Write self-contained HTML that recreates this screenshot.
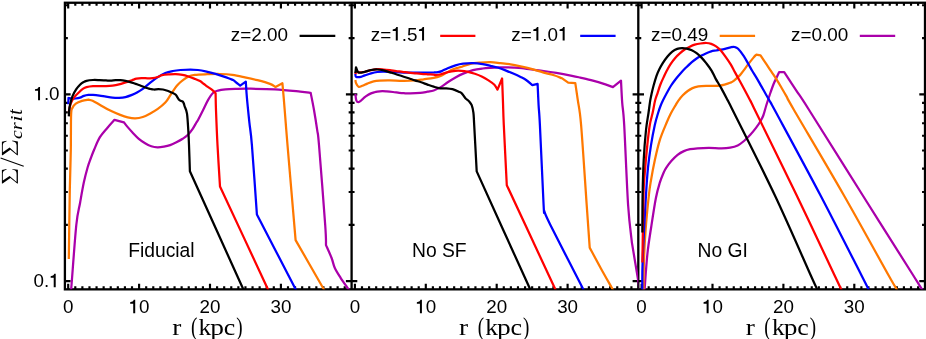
<!DOCTYPE html>
<html><head><meta charset="utf-8"><title>Sigma/Sigma_crit vs r</title>
<style>html,body{margin:0;padding:0;background:#fff;}body{width:926px;height:339px;overflow:hidden;}svg{display:block;will-change:transform;}text{font-family:"Liberation Sans",sans-serif;fill:#000;}.s{font-family:"Liberation Serif",serif;}</style></head><body>
<svg width="926" height="339" viewBox="0 0 926 339">
<rect x="0" y="0" width="926" height="339" fill="#fff"/>
<defs>
<clipPath id="c0"><rect x="64.9" y="2.75" width="286.7" height="286.6"/></clipPath>
<clipPath id="c1"><rect x="351.6" y="2.75" width="286.7" height="286.6"/></clipPath>
<clipPath id="c2"><rect x="638.3" y="2.75" width="286.7" height="286.6"/></clipPath>
</defs>
<path d="M68.2 289.35v-5.7M68.2 2.75v5.7M75.29 289.35v-3M75.29 2.75v3M82.38 289.35v-3M82.38 2.75v3M89.47 289.35v-3M89.47 2.75v3M96.56 289.35v-3M96.56 2.75v3M103.65 289.35v-3M103.65 2.75v3M110.74 289.35v-3M110.74 2.75v3M117.83 289.35v-3M117.83 2.75v3M124.92 289.35v-3M124.92 2.75v3M132.01 289.35v-3M132.01 2.75v3M139.1 289.35v-5.7M139.1 2.75v5.7M146.19 289.35v-3M146.19 2.75v3M153.28 289.35v-3M153.28 2.75v3M160.37 289.35v-3M160.37 2.75v3M167.46 289.35v-3M167.46 2.75v3M174.55 289.35v-3M174.55 2.75v3M181.64 289.35v-3M181.64 2.75v3M188.73 289.35v-3M188.73 2.75v3M195.82 289.35v-3M195.82 2.75v3M202.91 289.35v-3M202.91 2.75v3M210 289.35v-5.7M210 2.75v5.7M217.09 289.35v-3M217.09 2.75v3M224.18 289.35v-3M224.18 2.75v3M231.27 289.35v-3M231.27 2.75v3M238.36 289.35v-3M238.36 2.75v3M245.45 289.35v-3M245.45 2.75v3M252.54 289.35v-3M252.54 2.75v3M259.63 289.35v-3M259.63 2.75v3M266.72 289.35v-3M266.72 2.75v3M273.81 289.35v-3M273.81 2.75v3M280.9 289.35v-5.7M280.9 2.75v5.7M287.99 289.35v-3M287.99 2.75v3M295.08 289.35v-3M295.08 2.75v3M302.17 289.35v-3M302.17 2.75v3M309.26 289.35v-3M309.26 2.75v3M316.35 289.35v-3M316.35 2.75v3M323.44 289.35v-3M323.44 2.75v3M330.53 289.35v-3M330.53 2.75v3M337.62 289.35v-3M337.62 2.75v3M344.71 289.35v-3M344.71 2.75v3M354.9 289.35v-5.7M354.9 2.75v5.7M361.99 289.35v-3M361.99 2.75v3M369.08 289.35v-3M369.08 2.75v3M376.17 289.35v-3M376.17 2.75v3M383.26 289.35v-3M383.26 2.75v3M390.35 289.35v-3M390.35 2.75v3M397.44 289.35v-3M397.44 2.75v3M404.53 289.35v-3M404.53 2.75v3M411.62 289.35v-3M411.62 2.75v3M418.71 289.35v-3M418.71 2.75v3M425.8 289.35v-5.7M425.8 2.75v5.7M432.89 289.35v-3M432.89 2.75v3M439.98 289.35v-3M439.98 2.75v3M447.07 289.35v-3M447.07 2.75v3M454.16 289.35v-3M454.16 2.75v3M461.25 289.35v-3M461.25 2.75v3M468.34 289.35v-3M468.34 2.75v3M475.43 289.35v-3M475.43 2.75v3M482.52 289.35v-3M482.52 2.75v3M489.61 289.35v-3M489.61 2.75v3M496.7 289.35v-5.7M496.7 2.75v5.7M503.79 289.35v-3M503.79 2.75v3M510.88 289.35v-3M510.88 2.75v3M517.97 289.35v-3M517.97 2.75v3M525.06 289.35v-3M525.06 2.75v3M532.15 289.35v-3M532.15 2.75v3M539.24 289.35v-3M539.24 2.75v3M546.33 289.35v-3M546.33 2.75v3M553.42 289.35v-3M553.42 2.75v3M560.51 289.35v-3M560.51 2.75v3M567.6 289.35v-5.7M567.6 2.75v5.7M574.69 289.35v-3M574.69 2.75v3M581.78 289.35v-3M581.78 2.75v3M588.87 289.35v-3M588.87 2.75v3M595.96 289.35v-3M595.96 2.75v3M603.05 289.35v-3M603.05 2.75v3M610.14 289.35v-3M610.14 2.75v3M617.23 289.35v-3M617.23 2.75v3M624.32 289.35v-3M624.32 2.75v3M631.41 289.35v-3M631.41 2.75v3M641.6 289.35v-5.7M641.6 2.75v5.7M648.69 289.35v-3M648.69 2.75v3M655.78 289.35v-3M655.78 2.75v3M662.87 289.35v-3M662.87 2.75v3M669.96 289.35v-3M669.96 2.75v3M677.05 289.35v-3M677.05 2.75v3M684.14 289.35v-3M684.14 2.75v3M691.23 289.35v-3M691.23 2.75v3M698.32 289.35v-3M698.32 2.75v3M705.41 289.35v-3M705.41 2.75v3M712.5 289.35v-5.7M712.5 2.75v5.7M719.59 289.35v-3M719.59 2.75v3M726.68 289.35v-3M726.68 2.75v3M733.77 289.35v-3M733.77 2.75v3M740.86 289.35v-3M740.86 2.75v3M747.95 289.35v-3M747.95 2.75v3M755.04 289.35v-3M755.04 2.75v3M762.13 289.35v-3M762.13 2.75v3M769.22 289.35v-3M769.22 2.75v3M776.31 289.35v-3M776.31 2.75v3M783.4 289.35v-5.7M783.4 2.75v5.7M790.49 289.35v-3M790.49 2.75v3M797.58 289.35v-3M797.58 2.75v3M804.67 289.35v-3M804.67 2.75v3M811.76 289.35v-3M811.76 2.75v3M818.85 289.35v-3M818.85 2.75v3M825.94 289.35v-3M825.94 2.75v3M833.03 289.35v-3M833.03 2.75v3M840.12 289.35v-3M840.12 2.75v3M847.21 289.35v-3M847.21 2.75v3M854.3 289.35v-5.7M854.3 2.75v5.7M861.39 289.35v-3M861.39 2.75v3M868.48 289.35v-3M868.48 2.75v3M875.57 289.35v-3M875.57 2.75v3M882.66 289.35v-3M882.66 2.75v3M889.75 289.35v-3M889.75 2.75v3M896.84 289.35v-3M896.84 2.75v3M903.93 289.35v-3M903.93 2.75v3M911.02 289.35v-3M911.02 2.75v3M918.11 289.35v-3M918.11 2.75v3M64.9 281.05h5.7M64.9 224.83h2.95M64.9 191.95h2.95M64.9 168.62h2.95M64.9 150.52h2.95M64.9 135.73h2.95M64.9 123.23h2.95M64.9 112.4h2.95M64.9 102.85h2.95M64.9 94.3h5.7M64.9 38.08h2.95M64.9 5.2h2.95M351.6 281.05h5.7M351.6 281.05h-5.7M351.6 224.83h2.95M351.6 224.83h-2.95M351.6 191.95h2.95M351.6 191.95h-2.95M351.6 168.62h2.95M351.6 168.62h-2.95M351.6 150.52h2.95M351.6 150.52h-2.95M351.6 135.73h2.95M351.6 135.73h-2.95M351.6 123.23h2.95M351.6 123.23h-2.95M351.6 112.4h2.95M351.6 112.4h-2.95M351.6 102.85h2.95M351.6 102.85h-2.95M351.6 94.3h5.7M351.6 94.3h-5.7M351.6 38.08h2.95M351.6 38.08h-2.95M351.6 5.2h2.95M351.6 5.2h-2.95M638.3 281.05h5.7M638.3 281.05h-5.7M638.3 224.83h2.95M638.3 224.83h-2.95M638.3 191.95h2.95M638.3 191.95h-2.95M638.3 168.62h2.95M638.3 168.62h-2.95M638.3 150.52h2.95M638.3 150.52h-2.95M638.3 135.73h2.95M638.3 135.73h-2.95M638.3 123.23h2.95M638.3 123.23h-2.95M638.3 112.4h2.95M638.3 112.4h-2.95M638.3 102.85h2.95M638.3 102.85h-2.95M638.3 94.3h5.7M638.3 94.3h-5.7M638.3 38.08h2.95M638.3 38.08h-2.95M638.3 5.2h2.95M638.3 5.2h-2.95M925 281.05h-5.7M925 224.83h-2.95M925 191.95h-2.95M925 168.62h-2.95M925 150.52h-2.95M925 135.73h-2.95M925 123.23h-2.95M925 112.4h-2.95M925 102.85h-2.95M925 94.3h-5.7M925 38.08h-2.95M925 5.2h-2.95" stroke="#000" stroke-width="2.15" fill="none"/>
<rect x="64.9" y="2.75" width="860.1" height="286.6" fill="none" stroke="#000" stroke-width="2.3"/>
<path d="M351.6 2.75V289.35M638.3 2.75V289.35" stroke="#000" stroke-width="2.3" fill="none"/>
<g clip-path="url(#c0)" fill="none" stroke-width="2.25" stroke-linejoin="round" stroke-linecap="butt">
<path d="M70.4 295.2C70.55 293.95 70.32 299.4 71.3 287.7C72.28 276 74.83 239.17 76.3 225C77.77 210.83 78.85 209.77 80.1 202.7C81.35 195.63 82.55 188.47 83.8 182.6C85.05 176.73 86.45 171.52 87.6 167.5C88.75 163.48 89.6 161.5 90.7 158.5C91.8 155.5 92.67 153.05 94.2 149.5C95.73 145.95 97.68 140.83 99.9 137.2C102.12 133.57 105.07 130.6 107.5 127.7C109.93 124.8 113.33 121.12 114.5 119.8L123.9 122.3C124.5 123.07 126.07 125.2 127.5 126.9C128.93 128.6 130.62 130.52 132.5 132.5C134.38 134.48 136.7 137.02 138.8 138.8C140.9 140.58 143.02 141.95 145.1 143.2C147.18 144.45 149.22 145.62 151.3 146.3C153.38 146.98 155.5 147.25 157.6 147.3C159.7 147.35 161.82 146.97 163.9 146.6C165.98 146.23 168.02 145.82 170.1 145.1C172.18 144.38 174.3 143.35 176.4 142.3C178.5 141.25 180.82 140.02 182.7 138.8C184.58 137.58 186.03 136.67 187.7 135C189.37 133.33 191.25 130.88 192.7 128.8C194.15 126.72 195.53 123.93 196.4 122.5C197.27 121.07 196.8 122.25 197.9 120.2C199 118.15 201.32 113.55 203 110.2C204.68 106.85 206.33 102.97 208 100.1C209.67 97.23 211.33 94.58 213 93C214.67 91.42 215.92 91.2 218 90.6C220.08 90 222.57 89.68 225.5 89.4C228.43 89.12 231.83 89.02 235.6 88.9C239.37 88.78 241.53 88.63 248.1 88.7C254.67 88.77 266.32 88.82 275 89.3C283.68 89.78 294.25 91 300.2 91.6C306.15 92.2 308.95 92.68 310.7 92.9C311.25 95.75 312.92 103.78 314 110C315.08 116.22 316.37 124.37 317.2 130.2C318.03 136.03 317.67 129.2 319 145C320.33 160.8 324.03 208.32 325.2 225C326.37 241.68 325.87 241.75 326 245.1C326.93 247.25 330.15 254.23 331.6 258C333.05 261.77 333.2 264.4 334.7 267.7C336.2 271 338.32 274.23 340.6 277.8C342.88 281.37 346.4 286.2 348.4 289.1C350.4 292 351.9 294.18 352.6 295.2" stroke="#aa00aa"/>
<path d="M68.8 258.9C68.97 247.42 69.47 208.15 69.8 190C70.13 171.85 70.58 162.5 70.8 150C71.02 137.5 70.83 122 71.1 115C71.37 108 71.62 109.88 72.4 108C73.18 106.12 74.2 104.88 75.8 103.7C77.4 102.52 79.88 101.57 82 100.9C84.12 100.23 87.42 99.9 88.5 99.7C89.18 99.87 90.67 99.83 92.6 100.7C94.53 101.57 97.17 103.25 100.1 104.9C103.03 106.55 106.85 108.93 110.2 110.6C113.55 112.27 117.28 113.78 120.2 114.9C123.12 116.02 125.2 116.73 127.7 117.3C130.2 117.87 132.68 118.35 135.2 118.3C137.72 118.25 140.28 117.82 142.8 117C145.32 116.18 147.8 114.75 150.3 113.4C152.8 112.05 155.3 110.7 157.8 108.9C160.3 107.1 163.2 104.9 165.3 102.6C167.4 100.3 168.72 97.6 170.4 95.1C172.08 92.6 174.05 89.45 175.4 87.6C176.75 85.75 177.35 85.15 178.5 84C179.65 82.85 180.63 81.97 182.3 80.7C183.97 79.43 186.42 77.38 188.5 76.4C190.58 75.42 191.67 75.17 194.8 74.8C197.93 74.43 203.12 74.33 207.3 74.2C211.48 74.07 215.72 73.88 219.9 74C224.08 74.12 228.23 74.35 232.4 74.9C236.57 75.45 240.72 76.42 244.9 77.3C249.08 78.18 253.32 79.1 257.5 80.2C261.68 81.3 267 82.78 270 83.9C273 85.02 274.58 86.4 275.5 86.9L282.4 83.2C282.62 85.6 283.15 91.02 283.7 97.6C284.25 104.18 285.07 114.8 285.7 122.7C286.33 130.6 285.85 125.43 287.5 145C289.15 164.57 294.25 224.25 295.6 240.1C300.2 248.12 317.93 279.02 323.2 288.2C328.47 297.38 326.53 294.03 327.2 295.2" stroke="#ff7800"/>
<path d="M68.3 104.3L68.5 98C69.08 98.08 70.83 98.42 72 98.5C73.17 98.58 74.17 98.63 75.5 98.5C76.83 98.37 78.6 98.13 80 97.7C81.4 97.27 82.5 96.37 83.9 95.9C85.3 95.43 86.88 95.07 88.4 94.9C89.92 94.73 91.15 94.78 93 94.9C94.85 95.02 97.33 95.3 99.5 95.6C101.67 95.9 103.83 96.37 106 96.7C108.17 97.03 110.33 97.42 112.5 97.6C114.67 97.78 116.83 97.88 119 97.8C121.17 97.72 123.33 97.58 125.5 97.1C127.67 96.62 130.08 95.67 132 94.9C133.92 94.13 135.2 93.52 137 92.5C138.8 91.48 140.58 90.45 142.8 88.8C145.02 87.15 147.8 84.55 150.3 82.6C152.8 80.65 155.3 78.7 157.8 77.1C160.3 75.5 162.78 74.02 165.3 73C167.82 71.98 170.38 71.5 172.9 71C175.42 70.5 177.48 70.25 180.4 70C183.32 69.75 187.48 69.5 190.4 69.5C193.32 69.5 195.38 69.7 197.9 70C200.42 70.3 202.57 70.67 205.5 71.3C208.43 71.93 212.17 72.83 215.5 73.8C218.83 74.77 222.57 76.05 225.5 77.1C228.43 78.15 231.22 79.12 233.1 80.1C234.98 81.08 235.62 82.07 236.8 83C237.98 83.93 239.63 85.25 240.2 85.7L245.8 81.7C245.98 84.35 246.3 90.77 246.9 97.6C247.5 104.43 248.57 114.8 249.4 122.7C250.23 130.6 250.65 129.7 251.9 145C253.15 160.3 256.07 202.92 256.9 214.5C263.27 226.78 288.13 274.75 295.1 288.2C302.07 301.65 298.1 294.03 298.7 295.2" stroke="#0000ff"/>
<path d="M68.8 112C69.12 110.6 69.87 105.97 70.7 103.6C71.53 101.23 72.45 99.65 73.8 97.8C75.15 95.95 77.23 94.02 78.8 92.5C80.37 90.98 81.92 89.6 83.2 88.7C84.48 87.8 84.87 87.53 86.5 87.1C88.13 86.67 90.83 86.25 93 86.1C95.17 85.95 97.33 86.2 99.5 86.2C101.67 86.2 103.83 86.2 106 86.1C108.17 86 110.33 85.88 112.5 85.6C114.67 85.32 116.83 84.93 119 84.4C121.17 83.87 123.33 83.1 125.5 82.4C127.67 81.7 130.17 80.82 132 80.2C133.83 79.58 134.92 79.05 136.5 78.7C138.08 78.35 139.63 78.17 141.5 78.1C143.37 78.03 145.83 78.28 147.7 78.3C149.57 78.32 151.03 78.42 152.7 78.2C154.37 77.98 156.13 77.5 157.7 77C159.27 76.5 160.23 75.63 162.1 75.2C163.97 74.77 166.63 74.58 168.9 74.4C171.17 74.22 173.43 74.02 175.7 74.1C177.97 74.18 180.38 74.5 182.5 74.9C184.62 75.3 186.45 75.88 188.4 76.5C190.35 77.12 192.27 77.83 194.2 78.6C196.13 79.37 198.38 80.2 200 81.1C201.62 82 202.6 83.03 203.9 84C205.2 84.97 206.33 85.85 207.8 86.9C209.27 87.95 211.4 89.22 212.7 90.3C214 91.38 215.12 92.88 215.6 93.4C215.67 96.2 215.68 101.6 216 110.2C216.32 118.8 216.83 132.3 217.5 145C218.17 157.7 219.58 179.5 220 186.4C227.87 203.28 258.75 269.57 267.2 287.7C275.65 305.83 270.12 293.95 270.7 295.2" stroke="#ff0000"/>
<path d="M68.8 116.4C68.9 115 69.08 110.35 69.4 108C69.72 105.65 70.18 104.28 70.7 102.3C71.22 100.32 71.57 98.28 72.5 96.1C73.43 93.92 75.05 91.08 76.3 89.2C77.55 87.32 78.85 85.95 80 84.8C81.15 83.65 82.12 82.97 83.2 82.3C84.28 81.63 84.87 81.18 86.5 80.8C88.13 80.42 90.83 80.12 93 80C95.17 79.88 97.33 80.03 99.5 80.1C101.67 80.17 104.17 80.32 106 80.4C107.83 80.48 108.88 80.65 110.5 80.6C112.12 80.55 114.07 80.18 115.7 80.1C117.33 80.02 118.67 79.97 120.3 80.1C121.93 80.23 123.55 80.48 125.5 80.9C127.45 81.32 130.08 82.03 132 82.6C133.92 83.17 135.42 83.73 137 84.3C138.58 84.87 139.72 85.33 141.5 86C143.28 86.67 146.2 87.8 147.7 88.3C149.2 88.8 149.47 88.8 150.5 89C151.53 89.2 152.58 89.47 153.9 89.5C155.22 89.53 156.88 89.2 158.4 89.2C159.92 89.2 161.48 89.23 163 89.5C164.52 89.77 166.1 90.32 167.5 90.8C168.9 91.28 170.1 91.8 171.4 92.4C172.7 93 174.38 93.75 175.3 94.4C176.22 95.05 176.35 95.48 176.9 96.3C177.45 97.12 178.32 98.8 178.6 99.3C178.92 99.55 179.8 100.43 180.5 100.8C181.2 101.17 182.42 101.38 182.8 101.5C182.97 101.83 183.48 102.67 183.8 103.5C184.12 104.33 184.17 104.82 184.7 106.5C185.23 108.18 186.4 109.6 187 113.6C187.6 117.6 187.97 125.27 188.3 130.5C188.63 135.73 188.73 138.2 189 145C189.27 151.8 189.75 166.92 189.9 171.3C198.68 190.7 233.25 267.05 242.6 287.7C251.95 308.35 245.43 293.95 246 295.2" stroke="#000000"/>
</g>
<g clip-path="url(#c1)" fill="none" stroke-width="2.25" stroke-linejoin="round" stroke-linecap="butt">
<path d="M355.4 94C355.55 95.05 355.78 98.93 356.3 100.3C356.82 101.67 357.6 102.25 358.5 102.2C359.4 102.15 360.65 100.85 361.7 100C362.75 99.15 363.77 97.93 364.8 97.1C365.83 96.27 366.87 95.62 367.9 95C368.93 94.38 369.95 93.85 371 93.4C372.05 92.95 373.15 92.6 374.2 92.3C375.25 92 375.95 91.78 377.3 91.6C378.65 91.42 380.73 91.23 382.3 91.2C383.87 91.17 384.92 91.27 386.7 91.4C388.48 91.53 390.92 91.77 393 92C395.08 92.23 397.37 92.6 399.2 92.8C401.03 93 402.17 93.1 404 93.2C405.83 93.3 407.5 93.45 410.2 93.4C412.9 93.35 417.32 93.18 420.2 92.9C423.08 92.62 425.25 92.1 427.5 91.7C429.75 91.3 431.57 91.22 433.7 90.5C435.83 89.78 437.97 88.77 440.3 87.4C442.63 86.03 445.17 83.95 447.7 82.3C450.23 80.65 452.92 78.95 455.5 77.5C458.08 76.05 460.28 74.82 463.2 73.6C466.12 72.38 469.75 71.05 473 70.2C476.25 69.35 479.78 68.9 482.7 68.5C485.62 68.1 487.9 67.98 490.5 67.8C493.1 67.62 495.72 67.48 498.3 67.4C500.88 67.32 503.42 67.27 506 67.3C508.58 67.33 511.13 67.45 513.8 67.6C516.47 67.75 519.1 67.88 522 68.2C524.9 68.52 527.58 69.03 531.2 69.5C534.82 69.97 539.52 70.43 543.7 71C547.88 71.57 551.58 72.1 556.3 72.9C561.02 73.7 568 75.02 572 75.8C576 76.58 576.82 76.8 580.3 77.6C583.78 78.4 588.72 79.47 592.9 80.6C597.08 81.73 602.07 83.32 605.4 84.4C608.73 85.48 611.65 86.65 612.9 87.1L621 80.6C621.2 84.28 621.67 95.3 622.2 102.7C622.73 110.1 623.22 107.95 624.2 125C625.18 142.05 626.82 185.4 628.1 205C629.38 224.6 631.27 236.33 631.9 242.6C633.15 250.13 637.95 279.03 639.4 287.8C640.85 296.57 640.4 293.97 640.6 295.2" stroke="#aa00aa"/>
<path d="M355.4 80C355.5 80.5 355.48 81.88 356 83C356.52 84.12 357.45 86.23 358.5 86.7C359.55 87.17 360.83 86.32 362.3 85.8C363.77 85.28 365.42 84.33 367.3 83.6C369.18 82.87 371.52 81.9 373.6 81.4C375.68 80.9 377.08 80.77 379.8 80.6C382.52 80.43 386.13 80.37 389.9 80.4C393.67 80.43 398.23 80.78 402.4 80.8C406.57 80.82 411.35 80.75 414.9 80.5C418.45 80.25 420.57 79.75 423.7 79.3C426.83 78.85 430.98 78.33 433.7 77.8C436.42 77.27 437.9 76.93 440 76.1C442.1 75.27 444.22 73.9 446.3 72.8C448.38 71.7 450.42 70.38 452.5 69.5C454.58 68.62 457.22 67.97 458.8 67.5C460.38 67.03 460.07 67.32 462 66.7C463.93 66.08 467.33 64.48 470.4 63.8C473.47 63.12 477.05 62.88 480.4 62.6C483.75 62.32 487.15 62.02 490.5 62.1C493.85 62.18 497.17 62.73 500.5 63.1C503.83 63.47 507.15 63.77 510.5 64.3C513.85 64.83 516.83 65.47 520.6 66.3C524.37 67.13 528.92 68.17 533.1 69.3C537.28 70.43 542.22 72.1 545.7 73.1C549.18 74.1 551.32 74.45 554 75.3C556.68 76.15 560.5 77.72 561.8 78.2L568.2 82.7L575.3 83.1C575.72 85.95 576.83 93.22 577.8 100.2C578.77 107.18 579.62 107.53 581.1 125C582.58 142.47 585.27 184.57 586.7 205C588.13 225.43 589.2 240.5 589.7 247.6C591.5 250.95 596.82 261 600.5 267.7C604.18 274.4 609.22 283.22 611.8 287.8C614.38 292.38 615.3 293.97 616 295.2" stroke="#ff7800"/>
<path d="M355.4 73.5C355.5 74.03 355.07 76.15 356 76.7C356.93 77.25 359.53 77.02 361 76.8C362.47 76.58 363.12 75.98 364.8 75.4C366.48 74.82 369.02 73.87 371.1 73.3C373.18 72.73 375.22 72.27 377.3 72C379.38 71.73 380.62 71.68 383.6 71.7C386.58 71.72 391.18 71.95 395.2 72.1C399.22 72.25 403.37 72.5 407.7 72.6C412.03 72.7 416.87 72.72 421.2 72.7C425.53 72.68 430.9 72.58 433.7 72.5C436.5 72.42 436.65 72.43 438 72.2C439.35 71.97 440.18 71.77 441.8 71.1C443.42 70.43 445.42 69.17 447.7 68.2C449.98 67.23 452.92 66.05 455.5 65.3C458.08 64.55 460.28 64.05 463.2 63.7C466.12 63.35 469.75 63.13 473 63.2C476.25 63.27 479.78 63.67 482.7 64.1C485.62 64.53 487.9 65.18 490.5 65.8C493.1 66.42 495.72 67 498.3 67.8C500.88 68.6 503.42 69.6 506 70.6C508.58 71.6 511.37 72.73 513.8 73.8C516.23 74.87 518.55 75.97 520.6 77C522.65 78.03 524.13 78.65 526.1 80C528.07 81.35 531.35 84.25 532.4 85.1L537.6 83.9C537.77 87.45 538.22 98.35 538.6 105.2C538.98 112.05 539.07 108.37 539.9 125C540.73 141.63 542.88 190.67 543.6 205C544.32 219.33 544.1 210 544.2 211C545.23 213.33 544.02 212.2 550.4 225C556.78 237.8 576.52 276.1 582.5 287.8C588.48 299.5 585.67 293.97 586.3 295.2" stroke="#0000ff"/>
<path d="M355.4 74L356 71.5C356.42 71.65 357.03 72.35 358.5 72.4C359.97 72.45 362.7 72.17 364.8 71.8C366.9 71.43 369.02 70.63 371.1 70.2C373.18 69.77 375.22 69.32 377.3 69.2C379.38 69.08 381.5 69.33 383.6 69.5C385.7 69.67 387.82 69.93 389.9 70.2C391.98 70.47 394.02 70.83 396.1 71.1C398.18 71.37 400.3 71.53 402.4 71.8C404.5 72.07 406.62 72.45 408.7 72.7C410.78 72.95 412.82 73.1 414.9 73.3C416.98 73.5 419.1 73.73 421.2 73.9C423.3 74.07 425.42 74.18 427.5 74.3C429.58 74.42 432.28 74.48 433.7 74.6C435.12 74.72 434.65 75.1 436 75C437.35 74.9 439.85 74.48 441.8 74C443.75 73.52 445.42 72.63 447.7 72.1C449.98 71.57 453.23 71.02 455.5 70.8C457.77 70.58 459.37 70.67 461.3 70.8C463.23 70.93 464.83 71.1 467.1 71.6C469.37 72.1 472.47 72.98 474.9 73.8C477.33 74.62 479.43 75.4 481.7 76.5C483.97 77.6 486.38 79.02 488.5 80.4C490.62 81.78 492.9 83.27 494.4 84.8C495.9 86.33 496.98 88.8 497.5 89.6L502.1 78.5C502.25 82.53 502.72 94.95 503 102.7C503.28 110.45 503.17 111.25 503.8 125C504.43 138.75 506.3 175.17 506.8 185.2C514.77 202.3 546.07 269.47 554.6 287.8C563.13 306.13 557.43 293.97 558 295.2" stroke="#ff0000"/>
<path d="M355.4 73L356 67.3C356.42 68.15 357.03 71.65 358.5 72.4C359.97 73.15 362.7 72.2 364.8 71.8C366.9 71.4 369.02 70.38 371.1 70C373.18 69.62 375.22 69.43 377.3 69.5C379.38 69.57 381.5 69.93 383.6 70.4C385.7 70.87 387.82 71.67 389.9 72.3C391.98 72.93 394.02 73.53 396.1 74.2C398.18 74.87 400.3 75.62 402.4 76.3C404.5 76.98 406.62 77.62 408.7 78.3C410.78 78.98 412.82 79.73 414.9 80.4C416.98 81.07 419.1 81.6 421.2 82.3C423.3 83 425.42 83.87 427.5 84.6C429.58 85.33 431.62 86.08 433.7 86.7C435.78 87.32 437.9 88.03 440 88.3C442.1 88.57 444.22 88.15 446.3 88.3C448.38 88.45 450.42 88.63 452.5 89.2C454.58 89.77 457.22 90.97 458.8 91.7C460.38 92.43 460.9 92.52 462 93.6C463.1 94.68 464.2 96.9 465.4 98.2C466.6 99.5 468.15 100.23 469.2 101.4C470.25 102.57 471 103.32 471.7 105.2C472.4 107.08 472.98 109.4 473.4 112.7C473.82 116 473.65 115.22 474.2 125C474.75 134.78 476.28 163.67 476.7 171.4C485.5 190.8 520.13 267.17 529.5 287.8C538.87 308.43 532.33 293.97 532.9 295.2" stroke="#000000"/>
</g>
<g clip-path="url(#c2)" fill="none" stroke-width="2.25" stroke-linejoin="round" stroke-linecap="butt">
<path d="M644.3 295.2C644.35 294.25 644.08 296.37 644.6 289.5C645.12 282.63 646.3 264.42 647.4 254C648.5 243.58 649.78 236.33 651.2 227C652.62 217.67 654.47 205.38 655.9 198C657.33 190.62 658.52 186.92 659.8 182.7C661.08 178.48 662.52 175.22 663.6 172.7C664.68 170.18 665.02 169.55 666.3 167.6C667.58 165.65 669.42 163.13 671.3 161C673.18 158.87 675.5 156.45 677.6 154.8C679.7 153.15 681.82 152.03 683.9 151.1C685.98 150.17 687.82 149.67 690.1 149.2C692.38 148.73 694.47 148.52 697.6 148.3C700.73 148.08 704.92 147.9 708.9 147.9C712.88 147.9 717.95 148.35 721.5 148.3C725.05 148.25 727.5 148.08 730.2 147.6C732.9 147.12 735.4 146.5 737.7 145.4C740 144.3 741.9 142.77 744 141C746.1 139.23 748.3 136.98 750.3 134.8C752.3 132.62 754.38 130.03 756 127.9C757.62 125.77 758.78 124.07 760 122C761.22 119.93 762.23 118.33 763.3 115.5C764.37 112.67 765.28 108.58 766.4 105C767.52 101.42 768.8 97.5 770 94C771.2 90.5 772.52 86.7 773.6 84C774.68 81.3 775.57 79.78 776.5 77.8C777.43 75.82 778.75 73.05 779.2 72.1L784.2 72.1C786.25 75.22 792.35 84.48 796.5 90.8C800.65 97.12 798.1 92.63 809.1 110C820.1 127.37 845.18 167.5 862.5 195C879.82 222.5 903.17 259.42 913 275C922.83 290.58 919.38 285.13 921.5 288.5C923.62 291.87 925 294.08 925.7 295.2" stroke="#aa00aa"/>
<path d="M643.5 295.2C643.57 289.67 643.55 272.87 643.9 262C644.25 251.13 644.77 241.17 645.6 230C646.43 218.83 648 203.3 648.9 195C649.8 186.7 650.02 186 651 180.2C651.98 174.4 653.33 166.88 654.8 160.2C656.27 153.52 657.8 146.42 659.8 140.1C661.8 133.78 664.97 126.73 666.8 122.3C668.63 117.87 669.37 116.3 670.8 113.5C672.23 110.7 674.13 107.65 675.4 105.5C676.67 103.35 677.17 102.3 678.4 100.6C679.63 98.9 681.25 96.9 682.8 95.3C684.35 93.7 686.08 92.2 687.7 91C689.32 89.8 690.72 88.87 692.5 88.1C694.28 87.33 696.13 86.78 698.4 86.4C700.67 86.02 703.52 85.9 706.1 85.8C708.68 85.7 711.62 85.83 713.9 85.8C716.18 85.77 718.02 85.8 719.8 85.6C721.58 85.4 722.88 85.07 724.6 84.6C726.32 84.13 728.58 83.43 730.1 82.8C731.62 82.17 732.05 82.08 733.7 80.8C735.35 79.52 738.37 76.8 740 75.1C741.63 73.4 742.08 72.47 743.5 70.6C744.92 68.73 746.83 66.07 748.5 63.9C750.17 61.73 752.22 59.13 753.5 57.6C754.78 56.07 755.75 55.18 756.2 54.7L760.5 55.3C761.48 56.77 764.58 61.37 766.4 64.1C768.22 66.83 769.72 69.15 771.4 71.7C773.08 74.25 774.82 76.73 776.5 79.4C778.18 82.07 779.83 84.87 781.5 87.7C783.17 90.53 784.42 92.68 786.5 96.4C788.58 100.12 784.47 93.57 794 110C803.53 126.43 827.97 167.5 843.7 195C859.43 222.5 879.63 259.42 888.4 275C897.17 290.58 894.35 285.13 896.3 288.5C898.25 291.87 899.47 294.08 900.1 295.2" stroke="#ff7800"/>
<path d="M642.4 295.2C642.43 289.67 642 278.7 642.6 262C643.2 245.3 645.1 210.72 646 195C646.9 179.28 647.17 176.02 648 167.7C648.83 159.38 649.87 152.22 651 145.1C652.13 137.98 653.62 130.35 654.8 125C655.98 119.65 657.18 116.08 658.1 113C659.02 109.92 659.5 108.57 660.3 106.5C661.1 104.43 661.75 102.97 662.9 100.6C664.05 98.23 665.83 94.82 667.2 92.3C668.57 89.78 669.63 87.77 671.1 85.5C672.57 83.23 674.37 80.8 676 78.7C677.63 76.6 679.32 74.68 680.9 72.9C682.48 71.12 684.27 69.25 685.5 68C686.73 66.75 687.25 66.38 688.3 65.4C689.35 64.42 690.42 63.25 691.8 62.1C693.18 60.95 694.98 59.58 696.6 58.5C698.22 57.42 699.87 56.48 701.5 55.6C703.13 54.72 704.78 53.92 706.4 53.2C708.02 52.48 709.58 51.75 711.2 51.3C712.82 50.85 714.47 50.77 716.1 50.5C717.73 50.23 719.38 50.02 721 49.7C722.62 49.38 724.18 49 725.8 48.6C727.42 48.2 729.23 47.57 730.7 47.3C732.17 47.03 733.37 46.75 734.6 47C735.83 47.25 736.57 47.28 738.1 48.8C739.63 50.32 742.02 53.43 743.8 56.1C745.58 58.77 747.43 62.4 748.8 64.8C750.17 67.2 750.73 68.37 752 70.5C753.27 72.63 754.83 74.95 756.4 77.6C757.97 80.25 759.73 83.47 761.4 86.4C763.07 89.33 764.73 92.27 766.4 95.2C768.07 98.13 770.02 101.53 771.4 104C772.78 106.47 766.55 94.83 774.7 110C782.85 125.17 805.87 167.5 820.3 195C834.73 222.5 853.33 259.42 861.3 275C869.27 290.58 866.4 285.13 868.1 288.5C869.8 291.87 870.93 294.08 871.5 295.2" stroke="#0000ff"/>
<path d="M642.4 262.6C642.58 251.33 643.1 209.98 643.5 195C643.9 180.02 644.17 181.02 644.8 172.7C645.43 164.38 646.47 153.05 647.3 145.1C648.13 137.15 648.92 130.35 649.8 125C650.68 119.65 651.72 117.07 652.6 113C653.48 108.93 654.28 103.88 655.1 100.6C655.92 97.32 656.62 95.98 657.5 93.3C658.38 90.62 659.27 87.42 660.4 84.5C661.53 81.58 663.2 78.17 664.3 75.8C665.4 73.43 665.98 72.22 667 70.3C668.02 68.38 669.03 66.37 670.4 64.3C671.77 62.23 673.58 59.77 675.2 57.9C676.82 56.03 678.47 54.53 680.1 53.1C681.73 51.67 683.38 50.37 685 49.3C686.62 48.23 688.18 47.47 689.8 46.7C691.42 45.93 692.92 45.23 694.7 44.7C696.48 44.17 698.55 43.78 700.5 43.5C702.45 43.22 704.62 42.93 706.4 43C708.18 43.07 709.58 43.33 711.2 43.9C712.82 44.47 714.47 45.27 716.1 46.4C717.73 47.53 719.38 48.92 721 50.7C722.62 52.48 724.18 54.82 725.8 57.1C727.42 59.38 729.32 62.13 730.7 64.4C732.08 66.67 732.97 68.62 734.1 70.7C735.23 72.78 736.3 74.73 737.5 76.9C738.7 79.07 739.82 80.98 741.3 83.7C742.78 86.42 744.72 90.02 746.4 93.2C748.08 96.38 750.15 100.33 751.4 102.8C752.65 105.27 746.38 92.63 753.9 108C761.42 123.37 783.08 167.17 796.5 195C809.92 222.83 827.02 259.42 834.4 275C841.78 290.58 839.2 285.13 840.8 288.5C842.4 291.87 843.47 294.08 844 295.2" stroke="#ff0000"/>
<path d="M642.4 232.6C642.43 226.33 642.38 207.1 642.6 195C642.82 182.9 643.13 170.83 643.7 160C644.27 149.17 645.2 137.83 646 130C646.8 122.17 647.8 117.9 648.5 113C649.2 108.1 649.67 103.88 650.2 100.6C650.73 97.32 651.13 95.82 651.7 93.3C652.27 90.78 652.8 88.42 653.6 85.5C654.4 82.58 655.57 78.47 656.5 75.8C657.43 73.13 658.18 71.58 659.2 69.5C660.22 67.42 661.22 65.47 662.6 63.3C663.98 61.13 665.88 58.45 667.5 56.5C669.12 54.55 670.68 52.87 672.3 51.6C673.92 50.33 675.58 49.48 677.2 48.9C678.82 48.32 680.38 48.15 682 48.1C683.62 48.05 685.27 48.23 686.9 48.6C688.53 48.97 690.18 49.53 691.8 50.3C693.42 51.07 694.98 51.98 696.6 53.2C698.22 54.42 699.87 55.9 701.5 57.6C703.13 59.3 704.7 61.2 706.4 63.4C708.1 65.6 710.17 68.27 711.7 70.8C713.23 73.33 713.97 75.63 715.6 78.6C717.23 81.57 719.52 85.03 721.5 88.6C723.48 92.17 725.65 96.43 727.5 100C729.35 103.57 724.73 94.17 732.6 110C740.47 125.83 761.7 167.5 774.7 195C787.7 222.5 803.65 259.57 810.6 275C817.55 290.43 814.85 284.23 816.4 287.6C817.95 290.97 819.32 293.93 819.9 295.2" stroke="#000000"/>
</g>
<text x="62.97" y="313.2" font-size="18.8">0</text>
<path transform="translate(128.65 313.2) scale(18.8)" d="M0.243,0V-0.503H0.08V-0.587C0.19,-0.59 0.25,-0.635 0.272,-0.709H0.349V0Z" fill="#000"/>
<text x="139.1" y="313.2" font-size="18.8">0</text>
<text x="199.55" y="313.2" font-size="18.8">20</text>
<text x="270.45" y="313.2" font-size="18.8">30</text>
<text x="349.67" y="313.2" font-size="18.8">0</text>
<path transform="translate(415.35 313.2) scale(18.8)" d="M0.243,0V-0.503H0.08V-0.587C0.19,-0.59 0.25,-0.635 0.272,-0.709H0.349V0Z" fill="#000"/>
<text x="425.8" y="313.2" font-size="18.8">0</text>
<text x="486.25" y="313.2" font-size="18.8">20</text>
<text x="557.15" y="313.2" font-size="18.8">30</text>
<text x="636.37" y="313.2" font-size="18.8">0</text>
<path transform="translate(702.05 313.2) scale(18.8)" d="M0.243,0V-0.503H0.08V-0.587C0.19,-0.59 0.25,-0.635 0.272,-0.709H0.349V0Z" fill="#000"/>
<text x="712.5" y="313.2" font-size="18.8">0</text>
<text x="772.95" y="313.2" font-size="18.8">20</text>
<text x="843.85" y="313.2" font-size="18.8">30</text>
<path transform="translate(33.47 100.3) scale(18.8)" d="M0.243,0V-0.503H0.08V-0.587C0.19,-0.59 0.25,-0.635 0.272,-0.709H0.349V0Z" fill="#000"/>
<text x="43.92" y="100.3" font-size="18.8">.0</text>
<text x="33.47" y="287.2" font-size="18.8">0.</text>
<path transform="translate(49.15 287.2) scale(18.8)" d="M0.243,0V-0.503H0.08V-0.587C0.19,-0.59 0.25,-0.635 0.272,-0.709H0.349V0Z" fill="#000"/>
<text x="128.2" y="256.6" font-size="19.3">Fiducial</text>
<text x="412" y="256.6" font-size="19.3">No SF</text>
<text x="697.5" y="256.6" font-size="19.3">No GI</text>
<text x="230.7" y="40.5" font-size="18.9">z=2.00</text>
<path d="M299.6 35.75H335.3" stroke="#000000" stroke-width="2.25" fill="none"/>
<text x="370.7" y="40.5" font-size="18.9">z=</text>
<path transform="translate(391.19 40.5) scale(18.9)" d="M0.243,0V-0.503H0.08V-0.587C0.19,-0.59 0.25,-0.635 0.272,-0.709H0.349V0Z" fill="#000"/>
<text x="401.7" y="40.5" font-size="18.9">.5</text>
<path transform="translate(417.46 40.5) scale(18.9)" d="M0.243,0V-0.503H0.08V-0.587C0.19,-0.59 0.25,-0.635 0.272,-0.709H0.349V0Z" fill="#000"/>
<path d="M440.2 35.75H475.4" stroke="#ff0000" stroke-width="2.25" fill="none"/>
<text x="511.3" y="40.5" font-size="18.9">z=</text>
<path transform="translate(531.79 40.5) scale(18.9)" d="M0.243,0V-0.503H0.08V-0.587C0.19,-0.59 0.25,-0.635 0.272,-0.709H0.349V0Z" fill="#000"/>
<text x="542.3" y="40.5" font-size="18.9">.0</text>
<path transform="translate(558.06 40.5) scale(18.9)" d="M0.243,0V-0.503H0.08V-0.587C0.19,-0.59 0.25,-0.635 0.272,-0.709H0.349V0Z" fill="#000"/>
<path d="M580.2 35.75H615.6" stroke="#0000ff" stroke-width="2.25" fill="none"/>
<text x="651.1" y="40.5" font-size="18.9">z=0.49</text>
<path d="M719.7 35.75H755.1" stroke="#ff7800" stroke-width="2.25" fill="none"/>
<text x="791.1" y="40.5" font-size="18.9">z=0.00</text>
<path d="M859.8 35.75H895.2" stroke="#aa00aa" stroke-width="2.25" fill="none"/>
<text class="s" transform="translate(172.25 334.5) scale(1.171 1.000)" font-size="23.3">r</text>
<text class="s" transform="translate(190.96 334.6) scale(0.819 1.090)" font-size="23.3">(</text>
<text class="s" transform="translate(198.52 334.5) scale(1.089 1.000)" font-size="23.3">k</text>
<text class="s" transform="translate(210.26 334.5) scale(1.177 1.000)" font-size="23.3">p</text>
<text class="s" transform="translate(223.81 334.5) scale(1.110 1.000)" font-size="23.3">c</text>
<text class="s" transform="translate(236.29 334.6) scale(0.819 1.090)" font-size="23.3">)</text>
<text class="s" transform="translate(458.95 334.5) scale(1.171 1.000)" font-size="23.3">r</text>
<text class="s" transform="translate(477.66 334.6) scale(0.819 1.090)" font-size="23.3">(</text>
<text class="s" transform="translate(485.22 334.5) scale(1.089 1.000)" font-size="23.3">k</text>
<text class="s" transform="translate(496.96 334.5) scale(1.177 1.000)" font-size="23.3">p</text>
<text class="s" transform="translate(510.51 334.5) scale(1.110 1.000)" font-size="23.3">c</text>
<text class="s" transform="translate(522.99 334.6) scale(0.819 1.090)" font-size="23.3">)</text>
<text class="s" transform="translate(745.65 334.5) scale(1.171 1.000)" font-size="23.3">r</text>
<text class="s" transform="translate(764.36 334.6) scale(0.819 1.090)" font-size="23.3">(</text>
<text class="s" transform="translate(771.92 334.5) scale(1.089 1.000)" font-size="23.3">k</text>
<text class="s" transform="translate(783.66 334.5) scale(1.177 1.000)" font-size="23.3">p</text>
<text class="s" transform="translate(797.21 334.5) scale(1.110 1.000)" font-size="23.3">c</text>
<text class="s" transform="translate(809.69 334.6) scale(0.819 1.090)" font-size="23.3">)</text>
<g transform="translate(17.9 183.5) rotate(-90)">
<path d="M0,-16H13.5L14.4,-11.4H13.8C13.4,-13.6 12.4,-15.1 10,-15.1H2.9L7.6,-8.3L1.5,-1.3H9.6C12.4,-1.3 13.5,-2.9 14,-5.6H14.6L13.7,0H0V-0.7L5.5,-7.5L0,-15.3Z" fill="#000"/>
<path d="M17.2,5.8L25.6,-17.3" stroke="#000" stroke-width="1.05" fill="none"/>
<path transform="translate(28.3 0)" d="M0,-16H13.5L14.4,-11.4H13.8C13.4,-13.6 12.4,-15.1 10,-15.1H2.9L7.6,-8.3L1.5,-1.3H9.6C12.4,-1.3 13.5,-2.9 14,-5.6H14.6L13.7,0H0V-0.7L5.5,-7.5L0,-15.3Z" fill="#000"/>
<text class="s" font-style="italic" transform="translate(44.39 4.2) scale(1.12 1.0)" font-size="17.6">c</text>
<text class="s" font-style="italic" transform="translate(53.6 4.2) scale(1.12 1.0)" font-size="17.6">r</text>
<text class="s" font-style="italic" transform="translate(61.63 4.2) scale(1.3 1.0)" font-size="17.6">i</text>
<text class="s" font-style="italic" transform="translate(68.63 4.2) scale(1.12 1.15)" font-size="17.6">t</text>
</g>
</svg></body></html>
